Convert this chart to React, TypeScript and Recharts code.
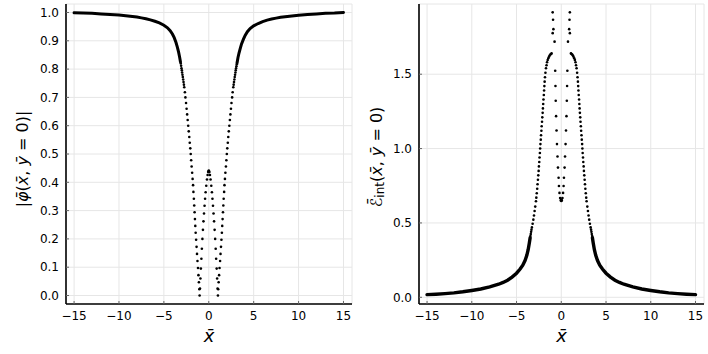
import React from "react";
import { ScatterChart, Scatter, XAxis, YAxis, CartesianGrid, Label } from "recharts";

const X_TICKS = [-15, -10, -5, 0, 5, 10, 15];
const PHI_TICKS = [0, 0.1, 0.2, 0.3, 0.4, 0.5, 0.6, 0.7, 0.8, 0.9, 1.0];
const E_TICKS = [0, 0.5, 1.0, 1.5];

// |phi|(x, y=0): dense flanks (drawn as a thick line)
const phiFlankLeft = [
  [-15, 0.999], [-14, 0.998], [-13, 0.997], [-12, 0.995], [-11, 0.993], [-10, 0.991],
  [-9, 0.988], [-8, 0.984], [-7.5, 0.981], [-7, 0.978], [-6.5, 0.974], [-6, 0.969],
  [-5.5, 0.963], [-5, 0.955], [-4.6, 0.946], [-4.3, 0.936], [-4.05, 0.924], [-3.85, 0.911],
  [-3.65, 0.894], [-3.5, 0.878], [-3.36, 0.86], [-3.25, 0.843], [-3.15, 0.825],
];
const phiFlankRight = [
  [3.15, 0.822], [3.25, 0.84], [3.36, 0.856], [3.5, 0.872],
  [3.65, 0.889], [3.85, 0.905], [4.05, 0.919], [4.3, 0.932], [4.6, 0.943], [5, 0.953],
  [5.5, 0.961], [6, 0.968], [6.5, 0.973], [7, 0.977], [7.5, 0.98], [8, 0.983], [9, 0.987],
  [10, 0.99], [11, 0.993], [12, 0.995], [13, 0.997], [14, 0.998], [15, 1.0],
];
// sparse samples through the two zeros
const phiCore = [
  // outer left
  [-3.12, 0.82], [-3.08, 0.812], [-3.04, 0.803], [-3.0, 0.796], [-2.97, 0.788], [-2.93, 0.78],
  [-2.89, 0.772], [-2.85, 0.763], [-2.81, 0.754], [-2.77, 0.745], [-2.73, 0.736], [-2.66, 0.718], [-2.6, 0.7],
  [-2.53, 0.68], [-2.47, 0.66], [-2.41, 0.64], [-2.35, 0.62], [-2.29, 0.6], [-2.23, 0.58],
  [-2.17, 0.56], [-2.12, 0.54], [-2.06, 0.52], [-2.01, 0.5], [-1.96, 0.478], [-1.91, 0.456],
  [-1.85, 0.434], [-1.8, 0.412], [-1.75, 0.39], [-1.71, 0.366], [-1.66, 0.342], [-1.62, 0.318],
  [-1.58, 0.294], [-1.54, 0.27], [-1.5, 0.246], [-1.46, 0.222], [-1.41, 0.197], [-1.36, 0.172],
  [-1.31, 0.147], [-1.26, 0.122], [-1.2, 0.097], [-1.15, 0.072], [-1.1, 0.047], [-1.05, 0.022],
  [-1.02, 0.0],
  // inner left
  [-0.98, 0.025], [-0.93, 0.06], [-0.88, 0.095], [-0.82, 0.13], [-0.77, 0.165], [-0.71, 0.2],
  [-0.65, 0.232], [-0.59, 0.262], [-0.53, 0.29], [-0.47, 0.317], [-0.41, 0.342], [-0.35, 0.365],
  [-0.28, 0.388], [-0.2, 0.41], [-0.13, 0.426], [-0.07, 0.436], [-0.02, 0.441],
  // inner right
  [0.02, 0.441], [0.07, 0.436], [0.13, 0.426], [0.2, 0.41], [0.28, 0.388], [0.35, 0.365],
  [0.41, 0.342], [0.47, 0.317], [0.53, 0.29], [0.59, 0.262], [0.65, 0.232], [0.71, 0.2],
  [0.77, 0.165], [0.82, 0.13], [0.88, 0.095], [0.93, 0.06], [0.98, 0.025],
  // outer right
  [1.02, 0.0], [1.05, 0.022], [1.1, 0.047], [1.15, 0.072], [1.2, 0.097], [1.26, 0.122],
  [1.31, 0.147], [1.36, 0.172], [1.41, 0.197], [1.46, 0.222], [1.5, 0.246], [1.54, 0.27],
  [1.58, 0.294], [1.62, 0.318], [1.66, 0.342], [1.71, 0.366], [1.75, 0.39], [1.8, 0.412],
  [1.85, 0.434], [1.91, 0.456], [1.96, 0.478], [2.01, 0.5], [2.06, 0.52], [2.12, 0.54],
  [2.17, 0.56], [2.23, 0.58], [2.29, 0.6], [2.35, 0.62], [2.41, 0.64], [2.47, 0.66],
  [2.53, 0.68], [2.6, 0.7], [2.66, 0.718], [2.73, 0.736], [2.77, 0.745], [2.81, 0.754],
  [2.85, 0.763], [2.89, 0.772], [2.93, 0.78], [2.97, 0.788], [3.0, 0.796], [3.04, 0.803],
  [3.08, 0.81], [3.12, 0.817],
];

// E_int(x, y=0)
const eFlankLeft = [
  [-15, 0.018], [-14, 0.021], [-13, 0.025], [-12, 0.03], [-11, 0.037], [-10, 0.046],
  [-9, 0.056], [-8, 0.07], [-7, 0.088], [-6.5, 0.1], [-6, 0.115], [-5.5, 0.136],
  [-5, 0.162], [-4.6, 0.19], [-4.3, 0.216], [-4.05, 0.247], [-3.85, 0.282], [-3.7, 0.32],
  [-3.57, 0.365], [-3.48, 0.4],
];
const eFlankRight = [
  [3.48, 0.4], [3.57, 0.365], [3.7, 0.32], [3.85, 0.282], [4.05, 0.247],
  [4.3, 0.216], [4.6, 0.19], [5, 0.162], [5.5, 0.136], [6, 0.115], [6.5, 0.1], [7, 0.088],
  [8, 0.07], [9, 0.056], [10, 0.046], [11, 0.037], [12, 0.03], [13, 0.025], [14, 0.021],
  [15, 0.018],
];
const eCore = [
  // outer left
  [-3.45, 0.412], [-3.41, 0.426], [-3.37, 0.44], [-3.33, 0.455],
  [-3.28, 0.47], [-3.2, 0.495], [-3.12, 0.522], [-3.05, 0.55], [-2.98, 0.58], [-2.91, 0.61],
  [-2.83, 0.646], [-2.79, 0.67], [-2.74, 0.7], [-2.69, 0.73], [-2.65, 0.76], [-2.61, 0.79],
  [-2.57, 0.82], [-2.53, 0.85], [-2.5, 0.88], [-2.46, 0.91], [-2.43, 0.94], [-2.39, 0.97],
  [-2.36, 1.0], [-2.33, 1.03], [-2.29, 1.06], [-2.26, 1.09], [-2.22, 1.12], [-2.19, 1.15],
  [-2.15, 1.18], [-2.12, 1.21], [-2.08, 1.24], [-2.05, 1.27], [-2.02, 1.3], [-1.99, 1.33],
  [-1.95, 1.36], [-1.92, 1.39], [-1.89, 1.42], [-1.86, 1.45], [-1.82, 1.48], [-1.77, 1.51],
  [-1.71, 1.54], [-1.65, 1.56], [-1.59, 1.58], [-1.52, 1.595], [-1.45, 1.607], [-1.37, 1.617],
  [-1.3, 1.625], [-1.22, 1.632], [-1.15, 1.636], [-1.08, 1.64],
  // top left
  [-0.96, 1.916], [-0.92, 1.866], [-0.88, 1.803], [-0.96, 1.776], [-0.75, 1.719],
  // inner left
  [-0.68, 1.523], [-0.65, 1.421], [-0.62, 1.322], [-0.58, 1.218], [-0.53, 1.121], [-0.48, 1.03],
  [-0.42, 0.947], [-0.37, 0.872], [-0.3, 0.804], [-0.26, 0.748], [-0.2, 0.702], [-0.13, 0.668],
  [-0.06, 0.651], [-0.02, 0.656], [0.0, 0.648], [0.02, 0.656],
  // inner right
  [0.06, 0.651], [0.13, 0.668], [0.2, 0.702], [0.26, 0.748], [0.3, 0.804], [0.37, 0.872],
  [0.42, 0.947], [0.48, 1.03], [0.53, 1.121], [0.58, 1.218], [0.62, 1.322], [0.65, 1.421],
  [0.68, 1.523],
  // top right
  [0.75, 1.719], [0.96, 1.776], [0.88, 1.803], [0.92, 1.866], [0.96, 1.916],
  // outer right
  [1.08, 1.64], [1.15, 1.636], [1.22, 1.632], [1.3, 1.625], [1.37, 1.617], [1.45, 1.607],
  [1.52, 1.595], [1.59, 1.58], [1.65, 1.56], [1.71, 1.54], [1.77, 1.51], [1.82, 1.48],
  [1.86, 1.45], [1.89, 1.42], [1.92, 1.39], [1.95, 1.36], [1.99, 1.33], [2.02, 1.3],
  [2.05, 1.27], [2.08, 1.24], [2.12, 1.21], [2.15, 1.18], [2.19, 1.15], [2.22, 1.12],
  [2.26, 1.09], [2.29, 1.06], [2.33, 1.03], [2.36, 1.0], [2.39, 0.97], [2.43, 0.94],
  [2.46, 0.91], [2.5, 0.88], [2.53, 0.85], [2.57, 0.82], [2.61, 0.79], [2.65, 0.76],
  [2.69, 0.73], [2.74, 0.7], [2.79, 0.67], [2.83, 0.646], [2.91, 0.61], [2.98, 0.58],
  [3.05, 0.55], [3.12, 0.522], [3.2, 0.495], [3.28, 0.47],
  [3.33, 0.455], [3.37, 0.44], [3.41, 0.426], [3.45, 0.412],
];

const pts = (a: number[][]) => a.map(([x, y]) => ({ x, y }));

const fmtX = (v: number) => (v < 0 ? `\u2212${-v}` : `${v}`);
const FONT = "DejaVu Sans";
const tickStyle = { fill: "#000", fontSize: 12, fontFamily: FONT };

const dot = (p: any) => <circle cx={p.cx} cy={p.cy} r={1.3} fill="#000" />;
const none = () => <g />;

const xLabel = (cx: number) => () => (
  <text x={cx} y={342} textAnchor="middle" fontSize={18} fontFamily={FONT} fontStyle="italic">
    x̄
  </text>
);

const Panel = ({ left, yTicks, yDomain, yWidth, right, yFmt, children, ylabel }: any) => (
  <div style={{ position: "absolute", left, top: 0 }}>
    <ScatterChart width={354} height={354} margin={{ top: 4, right, bottom: 0, left: 0 }}>
      <CartesianGrid stroke="#e6e6e6" strokeWidth={1} />
      <XAxis
        type="number"
        dataKey="x"
        domain={[-15.9, 15.95]}
        ticks={X_TICKS}
        tickFormatter={fmtX}
        height={50}
        tick={tickStyle}
        tickSize={-3}
        tickMargin={10}
        axisLine={{ stroke: "#000", strokeWidth: 1.6 }}
        tickLine={{ stroke: "#666" }}
      >
        <Label content={xLabel(yWidth + (354 - yWidth - right) / 2)} />
      </XAxis>
      <YAxis
        type="number"
        dataKey="y"
        domain={yDomain}
        ticks={yTicks}
        tickFormatter={yFmt}
        width={yWidth}
        tick={tickStyle}
        tickSize={-3}
        tickMargin={10}
        axisLine={{ stroke: "#000", strokeWidth: 1.6 }}
        tickLine={{ stroke: "#666" }}
      >
        <Label content={ylabel} />
      </YAxis>
      {children}
    </ScatterChart>
  </div>
);

const phiLabel = () => (
  <text
    x={22}
    y={159}
    transform="rotate(-90, 22, 159)"
    textAnchor="middle"
    dominantBaseline="central"
    fontSize={16}
    fontFamily={FONT}
  >
    |<tspan fontStyle="italic">φ̄</tspan>(<tspan fontStyle="italic">x̄</tspan>,{" "}
    <tspan fontStyle="italic">ȳ</tspan> = 0)|
  </text>
);

const eLabel = () => (
  <text
    x={22}
    y={157}
    transform="rotate(-90, 22, 157)"
    textAnchor="middle"
    dominantBaseline="central"
    fontSize={16}
    fontFamily={FONT}
  >
    <tspan fontStyle="italic">ℰ̄</tspan>
    <tspan fontSize={12} dy={4}>int</tspan>
    <tspan dy={-4}>(</tspan>
    <tspan fontStyle="italic">x̄</tspan>, <tspan fontStyle="italic">ȳ</tspan> = 0)
  </text>
);

const lineStyle = (w: number) => ({ stroke: "#000", strokeWidth: w, strokeLinecap: "round" as const });

export default function App() {
  return (
    <div style={{ position: "absolute", left: 0, top: 0, width: 708, height: 354, background: "#fff" }}>
      <Panel
        left={0}
        right={2}
        yWidth={66}
        yTicks={PHI_TICKS}
        yDomain={[-0.03, 1.03]}
        yFmt={(v: number) => v.toFixed(1)}
        ylabel={phiLabel}
      >
        <Scatter data={pts(phiFlankLeft)} line={lineStyle(3)} shape={none} isAnimationActive={false} />
        <Scatter data={pts(phiFlankRight)} line={lineStyle(3)} shape={none} isAnimationActive={false} />
        <Scatter data={pts(phiCore)} shape={dot} isAnimationActive={false} />
      </Panel>
      <Panel
        left={354}
        right={4}
        yWidth={65}
        yTicks={E_TICKS}
        yDomain={[-0.045, 1.972]}
        yFmt={(v: number) => v.toFixed(1)}
        ylabel={eLabel}
      >
        <Scatter data={pts(eFlankLeft)} line={lineStyle(3.4)} shape={none} isAnimationActive={false} />
        <Scatter data={pts(eFlankRight)} line={lineStyle(3.4)} shape={none} isAnimationActive={false} />
        <Scatter data={pts(eCore)} shape={dot} isAnimationActive={false} />
      </Panel>
    </div>
  );
}
